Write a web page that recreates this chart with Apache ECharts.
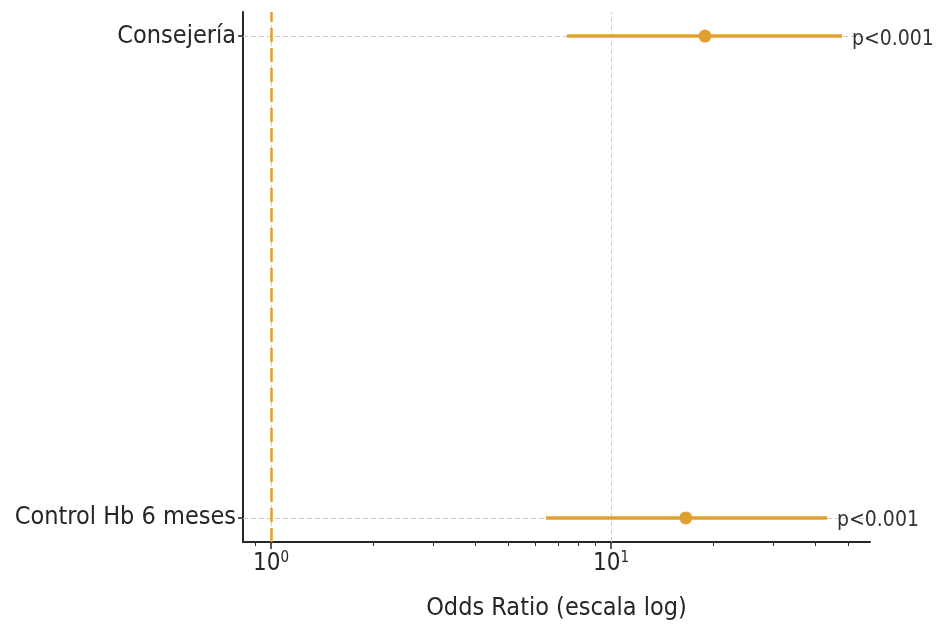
<!DOCTYPE html>
<html>
<head>
    <meta charset="utf-8">
    <title>Forest plot</title>
    <script src="https://cdn.jsdelivr.net/npm/echarts@6/dist/echarts.min.js"></script>
</head>
<body style="margin:0">
<div id="main" style="width: 939px;height:628px;"></div>
<script type="text/javascript">
    // datos (índice 0 abajo, 1 arriba)
    var categorias = ['Control Hb 6 meses', 'Consejería'];
    var oddsRatio = [16.6, 18.9];
    var icInferior = [6.44, 7.42];
    var icSuperior = [43.2, 47.8];
    var pValores = ['p<0.001', 'p<0.001'];
    var ticksMayores = [1, 10];
    var ticksMenores = [0.9, 2, 3, 4, 5, 6, 7, 8, 9, 20, 30, 40, 50];

    var naranja = '#E0A030';
    var fuente = 'DejaVu Sans Condensed';

    var myChart = echarts.init(document.getElementById('main'));

    var ejeBase = {
        type: 'log',
        logBase: 10,
        min: 0.827,
        max: 57.8,
        splitLine: {show: false}
    };

    option = {
        animation: false,
        grid: {left: 243, right: 69, top: 12, bottom: 86},
        xAxis: [
            Object.assign({}, ejeBase, {
                name: 'Odds Ratio (escala log)',
                nameLocation: 'middle',
                nameGap: 54,
                nameTextStyle: {fontFamily: fuente, fontSize: 25, color: '#262626'},
                axisLine: {onZero: false, lineStyle: {color: '#262626', width: 2}},
                axisTick: {customValues: ticksMayores, length: 7, lineStyle: {color: '#262626', width: 1.5}},
                axisLabel: {
                    customValues: ticksMayores,
                    margin: 9,
                    formatter: function (v) {
                        return '{b|10}{s|' + Math.round(Math.log10(v)) + '}';
                    },
                    rich: {
                        b: {fontFamily: fuente, fontSize: 24, color: '#262626'},
                        s: {fontFamily: fuente, fontSize: 15, color: '#262626', verticalAlign: 'top', padding: [0, 0, 10, 0]}
                    }
                }
            }),
            Object.assign({}, ejeBase, {
                position: 'bottom',
                axisLine: {show: false, onZero: false},
                axisTick: {customValues: ticksMenores, length: 4, lineStyle: {color: '#262626', width: 1}},
                axisLabel: {show: false}
            })
        ],
        yAxis: {
            type: 'value',
            min: -0.05,
            max: 1.05,
            splitLine: {show: false},
            axisLine: {show: true, onZero: false, lineStyle: {color: '#262626', width: 2}},
            axisTick: {show: true, customValues: [0, 1], length: 5, lineStyle: {color: '#262626', width: 1.5}},
            axisLabel: {
                customValues: [0, 1],
                margin: 7,
                padding: [6, 0, 0, 0],
                fontFamily: fuente,
                fontSize: 25,
                color: '#262626',
                formatter: function (v) { return categorias[Math.round(v)]; }
            }
        },
        series: [
            {
                // líneas de referencia
                type: 'scatter',
                data: [],
                silent: true,
                markLine: {
                    symbol: 'none',
                    label: {show: false},
                    lineStyle: {color: '#cccccc', type: [5, 3], width: 1},
                    data: [
                        {xAxis: ticksMayores[0]}, {xAxis: ticksMayores[1]},
                        {yAxis: 0}, {yAxis: 1}
                    ]
                }
            },
            {
                type: 'scatter',
                data: [],
                silent: true,
                markLine: {
                    symbol: 'none',
                    label: {show: false},
                    lineStyle: {color: naranja, type: [14, 6], width: 2.5},
                    data: [{xAxis: 1}]
                }
            },
            {
                // intervalos de confianza
                type: 'custom',
                data: categorias.map(function (c, i) { return [icInferior[i], icSuperior[i], i]; }),
                renderItem: function (params, api) {
                    var a = api.coord([api.value(0), api.value(2)]);
                    var b = api.coord([api.value(1), api.value(2)]);
                    return {
                        type: 'group',
                        children: [
                            {
                                type: 'line',
                                shape: {x1: a[0], y1: a[1], x2: b[0], y2: b[1]},
                                style: {stroke: naranja, lineWidth: 3.5}
                            },
                            {
                                type: 'text',
                                x: b[0] + 10,
                                y: b[1] + 3,
                                style: {
                                    text: pValores[params.dataIndex],
                                    fontFamily: fuente,
                                    fontSize: 21,
                                    fill: '#333333',
                                    verticalAlign: 'middle',
                                    align: 'left'
                                }
                            }
                        ]
                    };
                },
                z: 5
            },
            {
                type: 'scatter',
                data: categorias.map(function (c, i) { return [oddsRatio[i], i]; }),
                symbolSize: 13,
                itemStyle: {color: naranja, opacity: 1},
                z: 6
            }
        ]
    };

    myChart.setOption(option);
</script>
</body>
</html>
